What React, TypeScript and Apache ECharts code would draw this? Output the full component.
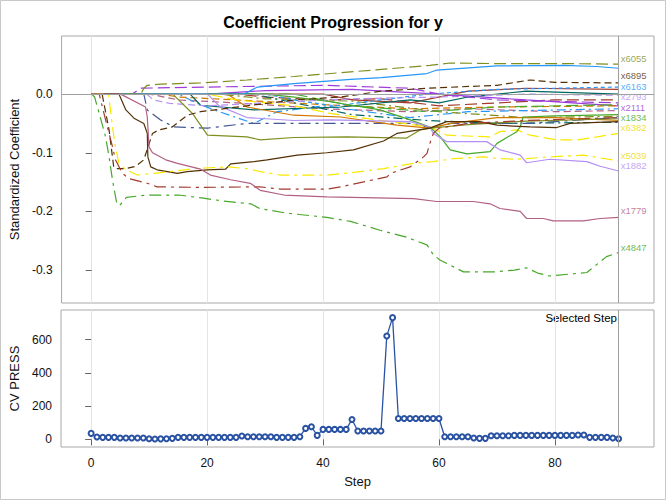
import React, { useEffect, useRef } from "react";
import * as echarts from "echarts";

const chartTitle = "Coefficient Progression for y";
const selectedStep = 91;
const xTicks = [0, 20, 40, 60, 80];
const coefTicks = [-0.3, -0.2, -0.1, 0];
const pressTicks = [0, 200, 400, 600];

// CV PRESS by step 0..91
const cvPress = [
  36, 14, 12, 12, 12, 8, 8, 8, 8, 8, 4, 2, 3, 4, 6,
  12, 12, 12, 12, 12, 12, 12, 12, 12, 12, 12,
  20, 16, 16, 16, 16, 16, 12, 12, 12, 12, 16,
  66, 76, 24, 60, 60, 60, 60, 60, 120, 50, 50, 50, 50, 50,
  622, 733, 126, 126, 126, 126, 126, 126, 126, 126,
  16, 16, 16, 16, 16, 8, 6, 6,
  22, 22, 22, 22, 24, 24, 24, 24, 24, 24, 24, 24, 24, 24, 24, 26, 26,
  12, 12, 12, 12, 8, 4,
];

// coefficient paths: [step, standardized coefficient]
const x4847 = [[0,0],[0.5,-0.005],[1.3,-0.033],[2.4,-0.073],[3,-0.107],[3.6,-0.147],[4.3,-0.185],[4.8,-0.19],[6,-0.176],[9.6,-0.172],[15,-0.172],[19,-0.177],[22.5,-0.182],[27.5,-0.187],[29,-0.195],[33.7,-0.203],[40.6,-0.21],[44.7,-0.217],[49.8,-0.232],[54.4,-0.244],[57.9,-0.257],[59,-0.274],[60.2,-0.283],[64.2,-0.303],[69.4,-0.303],[73,-0.3],[75.1,-0.296],[77,-0.305],[79.1,-0.31],[85.5,-0.304],[88.9,-0.277],[91,-0.27]];
const x1779 = [[0,0],[5,0],[9.3,-0.022],[9.6,-0.039],[9.9,-0.09],[10.5,-0.1],[12.8,-0.112],[14.8,-0.118],[18.8,-0.128],[20.5,-0.138],[24,-0.146],[27.4,-0.152],[29.1,-0.164],[33.2,-0.172],[40.6,-0.175],[55.6,-0.178],[59.6,-0.183],[65.9,-0.183],[68.8,-0.187],[70.5,-0.195],[74,-0.2],[75.1,-0.212],[78,-0.212],[79.7,-0.216],[84.9,-0.216],[87.8,-0.212],[91,-0.21]];
const x5039 = [[0,0],[2.9,0],[3.6,-0.056],[4.1,-0.09],[4.7,-0.118],[5.9,-0.129],[7.9,-0.138],[10.7,-0.135],[13.6,-0.132],[17.6,-0.127],[23.4,-0.124],[26.8,-0.127],[29.1,-0.132],[32.6,-0.138],[40.6,-0.138],[44.7,-0.134],[50.4,-0.127],[55.6,-0.118],[59,-0.115],[62.5,-0.11],[67.6,-0.107],[70.5,-0.11],[73.4,-0.111],[79.1,-0.107],[84.9,-0.104],[91,-0.114]];
const redDrop = [[0,0],[1.3,0],[2.4,-0.044],[3.6,-0.09],[4.1,-0.112],[5.3,-0.135],[6.4,-0.144],[9.6,-0.152],[11.3,-0.158],[18.8,-0.159],[29,-0.158],[32.6,-0.162],[40.6,-0.162],[43,-0.158],[51,-0.141],[51.6,-0.135],[55,-0.124],[57.3,-0.107],[57.9,-0.101],[58.4,-0.084],[59,-0.067],[60,-0.058],[65,-0.05],[75,-0.045],[91,-0.04]];
const brownSolid = [[0,0],[4.7,0],[5.9,-0.027],[7.3,-0.041],[9,-0.05],[9.6,-0.067],[9.7,-0.107],[10.2,-0.124],[11.3,-0.129],[14.8,-0.135],[16.5,-0.132],[20,-0.129],[23.1,-0.128],[24,-0.119],[28,-0.115],[30.3,-0.112],[35.5,-0.104],[40.6,-0.1],[45.2,-0.095],[50.4,-0.08],[52.7,-0.067],[58.4,-0.058],[61.3,-0.047],[67,-0.047],[70,-0.053],[75.7,-0.056],[80.3,-0.057],[82.6,-0.05],[91,-0.047]];
const x6895 = [[0,0],[1.8,0],[3,-0.061],[3.8,-0.124],[4.1,-0.127],[5.9,-0.127],[7.6,-0.123],[9,-0.112],[10.5,-0.067],[11.6,-0.061],[13.9,-0.056],[16.5,-0.036],[18.8,-0.03],[26.8,-0.02],[35,-0.01],[43,-0.005],[50,0.005],[58,0.01],[70,0.015],[75.7,0.024],[80,0.02],[91,0.019]];
const x6055 = [[0,0],[8.5,0],[9,0.01],[9.6,0.015],[11.9,0.017],[18.8,0.019],[26.8,0.024],[34.9,0.03],[42.4,0.036],[48.7,0.041],[58.4,0.049],[61.9,0.053],[70,0.052],[81,0.052],[91,0.051]];
const blueTop = [[0,0],[26.3,0],[28.6,0.012],[34.9,0.018],[44.7,0.025],[50,0.028],[57.9,0.035],[59.6,0.041],[70,0.048],[81.4,0.049],[87.2,0.047],[91,0.044]];
const oliveSolid = [[0,0],[14,0],[17.4,-0.033],[19,-0.056],[20,-0.07],[26.8,-0.073],[29.1,-0.078],[34.9,-0.074],[44.1,-0.073],[54.4,-0.075],[56.7,-0.061],[58.5,-0.058],[65,-0.052],[75,-0.046],[91,-0.042]];
const x1882 = [[0,0],[20,0],[22,-0.02],[26.8,-0.04],[34.9,-0.045],[41.2,-0.044],[55,-0.047],[58.4,-0.056],[59,-0.067],[61.3,-0.081],[68.2,-0.081],[70.5,-0.095],[74,-0.104],[75.1,-0.117],[79.1,-0.111],[85.5,-0.115],[87.8,-0.123],[91,-0.131]];
const x1834 = [[0,0],[30,0],[35,-0.005],[41.2,-0.013],[49.8,-0.027],[55,-0.044],[58.4,-0.056],[60.2,-0.073],[61.9,-0.095],[64.8,-0.102],[68.8,-0.098],[70,-0.084],[73.4,-0.064],[74,-0.056],[74.5,-0.039],[80,-0.037],[91,-0.035]];
const x6382 = [[0,0],[20,0],[25,-0.01],[35,-0.02],[41.2,-0.033],[50,-0.045],[58.4,-0.056],[61.3,-0.07],[68.8,-0.073],[70.5,-0.064],[73.4,-0.061],[75.7,-0.07],[80.3,-0.078],[84,-0.078],[87.2,-0.073],[91,-0.067]];
const orangeSolid = [[0,0],[23.4,0],[26.8,-0.022],[34.9,-0.036],[43,-0.039],[52.7,-0.053],[58.4,-0.058],[62,-0.05],[70,-0.04],[80,-0.04],[91,-0.045]];
const navyDashDot = [[0,0],[9,0],[9.6,-0.027],[11.9,-0.044],[14.2,-0.056],[20,-0.058],[26.8,-0.05],[41,-0.05],[55,-0.05],[58.5,-0.058],[62,-0.05],[75,-0.05],[91,-0.04]];
const x2111 = [[0,0],[7,0],[8.4,0.01],[20,0.012],[40,0.015],[55,0.01],[60,0],[70,-0.01],[91,-0.015]];
const x2793 = [[0,0],[9.5,0],[10.7,-0.01],[13.6,-0.016],[20,-0.02],[30,-0.015],[45,-0.008],[60,-0.005],[75,0],[91,-0.002]];
const x6163 = [[0,0],[30,0],[36,-0.012],[42,-0.02],[50,-0.01],[58,0],[70,0.008],[80,0.01],[91,0.012]];
const tealSolid = [[0,0],[17,0],[18.8,-0.019],[28,-0.027],[43,-0.022],[55,-0.01],[60,-0.015],[65,-0.005],[75,0.005],[91,0]];
const redLongDash = [[0,0],[25,0],[30,-0.005],[40,-0.01],[50,-0.008],[60,-0.02],[70,-0.015],[80,-0.01],[91,-0.01]];
const pinkDash = [[0,0],[10,0],[15,-0.01],[25,-0.015],[40,-0.025],[55,-0.03],[65,-0.025],[80,-0.03],[91,-0.028]];
const cyanDashDot = [[0,0],[15,0],[18,-0.015],[22,-0.03],[28,-0.05],[32,-0.03],[40,-0.02],[55,-0.04],[65,-0.03],[91,-0.025]];
const purpleSolid = [[0,0],[20,0],[30,0.006],[45,0.008],[60,0],[75,-0.01],[91,-0.02]];
const orangeDash = [[0,0],[12,0],[15,-0.005],[25,-0.01],[40,-0.018],[55,-0.025],[70,-0.022],[91,-0.02]];
const oliveDashDot = [[0,0],[22,0],[30,-0.008],[45,-0.012],[60,-0.03],[75,-0.04],[91,-0.038]];
const redSolid = [[0,0],[40,0],[45,-0.01],[55,-0.015],[65,0.005],[75,0.01],[91,0.008]];
const greenLongDash = [[0,0],[35,0],[45,-0.02],[58,-0.03],[70,-0.022],[91,-0.018]];
const tealDashDot = [[0,0],[28,0],[35,-0.015],[45,-0.035],[58,-0.045],[70,-0.05],[91,-0.048]];

// end-of-path labels
const labelNames = ["x6055", "x6895", "x6163", "x2793", "x2111", "x1834", "x6382", "x5039", "x1882", "x1779", "x4847"];
const labelValues = [0.06, 0.031, 0.0133, -0.0044, -0.0221, -0.0398, -0.0575, -0.104, -0.122, -0.199, -0.261];
const labelColors = ["#7F8E1F", "#543005", "#2597FA", "#B38EF3", "#9D3CDB", "#47A82A", "#EAD800", "#EAD800", "#B38EF3", "#B26084", "#47A82A"];

const SOLID = "solid";
const LONG = [12, 5];
const MED = [7, 4];
const SHORT = [4, 3];
const DD = [12, 5, 3, 5];
const DD2 = [9, 4, 2, 4];

const curves: { pts: number[][]; color: string; dash: any }[] = [
  { pts: redLongDash, color: "#A23A2E", dash: LONG },
  { pts: pinkDash, color: "#B26084", dash: MED },
  { pts: cyanDashDot, color: "#2597FA", dash: DD2 },
  { pts: purpleSolid, color: "#9D3CDB", dash: SOLID },
  { pts: orangeDash, color: "#D17800", dash: MED },
  { pts: oliveDashDot, color: "#7F8E1F", dash: DD2 },
  { pts: redSolid, color: "#A23A2E", dash: SOLID },
  { pts: greenLongDash, color: "#47A82A", dash: LONG },
  { pts: tealDashDot, color: "#01665E", dash: DD2 },
  { pts: tealSolid, color: "#01665E", dash: SOLID },
  { pts: x6163, color: "#2597FA", dash: SHORT },
  { pts: x2793, color: "#B38EF3", dash: MED },
  { pts: x2111, color: "#9D3CDB", dash: LONG },
  { pts: navyDashDot, color: "#445694", dash: DD },
  { pts: orangeSolid, color: "#D17800", dash: SOLID },
  { pts: x6382, color: "#F9E900", dash: LONG },
  { pts: x1834, color: "#47A82A", dash: SOLID },
  { pts: x1882, color: "#B38EF3", dash: SOLID },
  { pts: oliveSolid, color: "#7F8E1F", dash: SOLID },
  { pts: blueTop, color: "#2597FA", dash: SOLID },
  { pts: x6055, color: "#7F8E1F", dash: LONG },
  { pts: x6895, color: "#543005", dash: MED },
  { pts: brownSolid, color: "#543005", dash: SOLID },
  { pts: redDrop, color: "#A23A2E", dash: DD },
  { pts: x5039, color: "#F9E900", dash: DD },
  { pts: x1779, color: "#B26084", dash: SOLID },
  { pts: x4847, color: "#47A82A", dash: DD },
];

const FONT = "'Liberation Sans', Arial, Helvetica, sans-serif";
const FRAME = "#a8a8a8";
const GRIDLINE = "#e4e4e4";
const TEXT = "#111";

export default function App() {
  const ref = useRef<HTMLDivElement>(null);
  useEffect(() => {
    document.body.style.margin = "0";
    if (!ref.current) return;
    const chart = echarts.init(ref.current, undefined, { renderer: "svg" });

    const xBase = (gridIndex: number, showLabels: boolean) => ({
      type: "value",
      gridIndex,
      min: -5.2,
      max: 97.1,
      axisLine: { show: false },
      axisTick: { show: showLabels, customValues: xTicks, length: 6, lineStyle: { color: "#666" } },
      axisLabel: { show: showLabels, customValues: xTicks, fontSize: 12, color: TEXT, margin: 10, fontFamily: FONT },
      splitLine: { show: true, lineStyle: { color: GRIDLINE, width: 1 } },
      ...(showLabels
        ? { name: "Step", nameLocation: "middle", nameGap: 28, nameTextStyle: { fontSize: 13, color: TEXT, fontFamily: FONT } }
        : {}),
    });

    const series: any[] = curves.map((c, i) => ({
      type: "line",
      xAxisIndex: 0,
      yAxisIndex: 0,
      data: c.pts,
      symbol: "none",
      showSymbol: false,
      silent: true,
      lineStyle: { color: c.color, width: 1.2, type: c.dash },
      z: 3,
      ...(i === 0
        ? {
            markLine: {
              silent: true,
              symbol: "none",
              label: { show: false },
              lineStyle: { color: "#a0a0a0", type: "solid", width: 1 },
              data: [{ yAxis: 0 }, { xAxis: selectedStep }],
            },
          }
        : {}),
    }));

    series.push({
      type: "scatter",
      xAxisIndex: 0,
      yAxisIndex: 0,
      symbolSize: 0,
      silent: true,
      data: labelNames.map((n, i) => ({
        value: [selectedStep, labelValues[i]],
        name: n,
        label: { color: labelColors[i] },
      })),
      label: {
        show: true,
        position: "right",
        distance: 2,
        formatter: (p: any) => p.name,
        fontSize: 9.5,
        lineHeight: 10,
        fontFamily: FONT,
      },
      z: 2,
    });

    series.push({
      type: "line",
      xAxisIndex: 1,
      yAxisIndex: 1,
      data: cvPress.map((v, i) => [i, v]),
      symbol: "emptyCircle",
      symbolSize: 5,
      showSymbol: true,
      silent: true,
      itemStyle: { color: "#2a52a3", borderWidth: 1.2 },
      lineStyle: { color: "#2a52a3", width: 1.3 },
      markLine: {
        silent: true,
        symbol: "none",
        label: { show: false },
        lineStyle: { color: "#a0a0a0", type: "solid", width: 1 },
        data: [{ xAxis: selectedStep }],
      },
    });

    chart.setOption({
      animation: false,
      textStyle: { fontFamily: FONT },
      title: {
        text: chartTitle,
        left: "center",
        top: 9,
        textStyle: { fontSize: 16, fontWeight: "bold", color: "#000", fontFamily: FONT },
      },
      grid: [
        { left: 61, top: 36, width: 593, height: 267, show: true, borderColor: FRAME, borderWidth: 1, backgroundColor: "transparent" },
        { left: 61, top: 310, width: 593, height: 137, show: true, borderColor: FRAME, borderWidth: 1, backgroundColor: "transparent" },
      ],
      xAxis: [xBase(0, false), xBase(1, true)],
      yAxis: [
        {
          type: "value",
          gridIndex: 0,
          min: -0.356,
          max: 0.099,
          axisLine: { show: false },
          axisTick: { show: true, customValues: coefTicks, length: 6, lineStyle: { color: "#666" } },
          axisLabel: { customValues: coefTicks, formatter: (v: number) => v.toFixed(1), fontSize: 12, color: TEXT, margin: 9, fontFamily: FONT },
          splitLine: { show: false },
          name: "Standardized Coefficient",
          nameLocation: "middle",
          nameGap: 33,
          nameTextStyle: { fontSize: 13, color: TEXT, fontFamily: FONT },
        },
        {
          type: "value",
          gridIndex: 1,
          min: -46,
          max: 779,
          axisLine: { show: false },
          axisTick: { show: true, customValues: pressTicks, length: 6, lineStyle: { color: "#666" } },
          axisLabel: { customValues: pressTicks, fontSize: 12, color: TEXT, margin: 9, fontFamily: FONT },
          splitLine: { show: false },
          name: "CV PRESS",
          nameLocation: "middle",
          nameGap: 33,
          nameTextStyle: { fontSize: 13, color: TEXT, fontFamily: FONT },
        },
      ],
      graphic: [
        {
          type: "rect",
          shape: { x: 0.5, y: 0.5, width: 665, height: 499 },
          style: { fill: "none", stroke: "#c8c8c8", lineWidth: 1 },
          silent: true,
        },
        {
          type: "text",
          x: 617,
          y: 318,
          style: {
            text: "Selected Step",
            align: "right",
            verticalAlign: "middle",
            textAlign: "right",
            textVerticalAlign: "middle",
            fontSize: 11.5,
            fill: "#000",
            fontFamily: FONT,
          },
          silent: true,
        },
      ],
      series,
    });
    return () => chart.dispose();
  }, []);
  return <div ref={ref} style={{ width: 666, height: 500 }} />;
}
